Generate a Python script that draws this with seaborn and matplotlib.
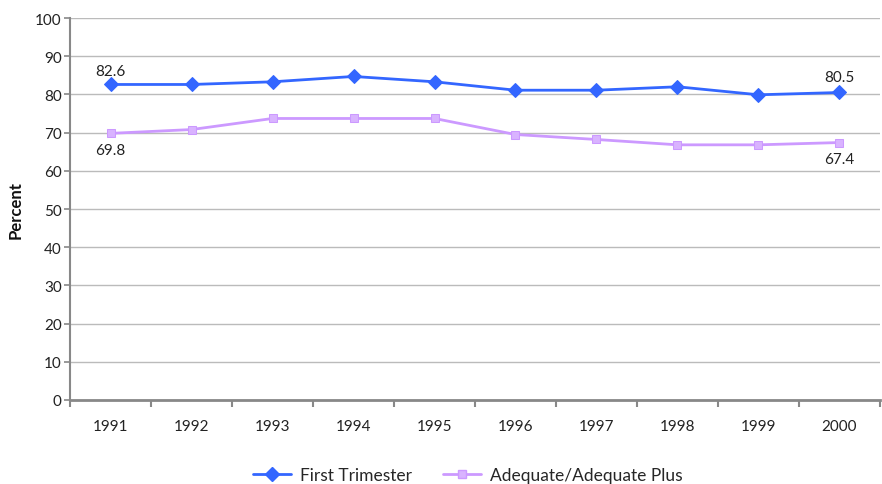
import matplotlib
matplotlib.use("Agg")
import matplotlib.pyplot as plt
import seaborn as sns
import pandas as pd
import numpy as np
from matplotlib.ticker import FixedLocator
from matplotlib.lines import Line2D

years = [1991, 1992, 1993, 1994, 1995, 1996, 1997, 1998, 1999, 2000]
first_trimester = [82.6, 82.6, 83.3, 84.7, 83.3, 81.1, 81.1, 82.0, 79.9, 80.5]
adequate = [69.8, 70.8, 73.7, 73.7, 73.7, 69.5, 68.2, 66.8, 66.8, 67.4]
series_names = ["First Trimester", "Adequate/Adequate Plus"]
year_labels = [str(y) for y in years]

df = pd.DataFrame({
    "Year": years * 2,
    "Percent": first_trimester + adequate,
    "Series": [series_names[0]] * len(years) + [series_names[1]] * len(years),
})

sns.set_theme(style="white")
plt.rcParams["font.family"] = ["Lato", "DejaVu Sans"]

fig = plt.figure(figsize=(8.82, 4.85), dpi=100)
ax = fig.add_axes([0.0794, 0.1732, 0.9183, 0.7876])

palette = {series_names[0]: "#3366FF", series_names[1]: "#CC99FF"}
sns.lineplot(data=df, x="Year", y="Percent", hue="Series", style="Series",
             palette=palette, markers={series_names[0]: "D", series_names[1]: "s"},
             dashes=False, linewidth=2, markersize=7, ax=ax, legend=False)

lines = ax.get_lines()
lines[0].set_markerfacecolor("#3366FF")
lines[0].set_markeredgecolor("#3366FF")
lines[0].set_markersize(7.5)
lines[1].set_markerfacecolor("#D9B3FF")
lines[1].set_markeredgecolor("#CC99FF")
lines[1].set_markersize(6)

ax.set_xlim(years[0] - 0.5, years[-1] + 0.5)
ax.set_ylim(0, 100)
ax.set_yticks(np.arange(0, 101, 10))
ax.set_xticks(years)
ax.set_xticklabels(year_labels)
ax.xaxis.set_minor_locator(FixedLocator(np.arange(years[0] - 0.5, years[-1] + 0.6, 1)))
ax.tick_params(axis="x", which="major", length=0, pad=14, labelsize=11, colors="#222222")
ax.tick_params(axis="x", which="minor", length=5, width=1.5, color="#888888", direction="out", bottom=True)
ax.tick_params(axis="y", which="major", length=4, width=1.2, color="#888888", direction="out", left=True,
               labelsize=11, colors="#222222", pad=2)

ax.grid(axis="y", color="#BBBBBB", linewidth=1)
ax.set_axisbelow(True)
for s in ["top", "right"]:
    ax.spines[s].set_visible(False)
ax.spines["left"].set_color("#888888")
ax.spines["left"].set_linewidth(1.5)
ax.spines["bottom"].set_color("#888888")
ax.spines["bottom"].set_linewidth(2)

ax.set_xlabel("")
ax.set_ylabel("Percent", fontsize=12, fontweight="bold", color="#111111", labelpad=8)

ax.annotate(f"{first_trimester[0]}", (years[0], first_trimester[0]), xytext=(0, 5),
            textcoords="offset points", ha="center", va="bottom", fontsize=11, color="#222222")
ax.annotate(f"{first_trimester[-1]}", (years[-1], first_trimester[-1]), xytext=(0, 6),
            textcoords="offset points", ha="center", va="bottom", fontsize=11, color="#222222")
ax.annotate(f"{adequate[0]}", (years[0], adequate[0]), xytext=(0, -7),
            textcoords="offset points", ha="center", va="top", fontsize=11, color="#222222")
ax.annotate(f"{adequate[-1]}", (years[-1], adequate[-1]), xytext=(0, -7),
            textcoords="offset points", ha="center", va="top", fontsize=11, color="#222222")

handles = [
    Line2D([], [], color="#3366FF", linewidth=2, marker="D", markersize=7,
           markerfacecolor="#3366FF", markeredgecolor="#3366FF"),
    Line2D([], [], color="#CC99FF", linewidth=2, marker="s", markersize=6,
           markerfacecolor="#D9B3FF", markeredgecolor="#CC99FF"),
]
fig.legend(handles, series_names, loc="center", bbox_to_anchor=(0.53, 0.018), ncol=2,
           frameon=False, fontsize=12.5, handlelength=2.2, columnspacing=1.8, handletextpad=0.5)

fig.savefig("out.png", dpi=100)
